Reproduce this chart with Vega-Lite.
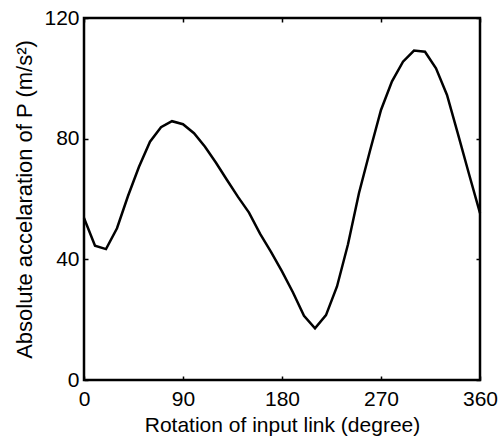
{
  "$schema": "https://vega.github.io/schema/vega-lite/v6.json",
  "width": 396,
  "height": 362,
  "autosize": {"type": "none"},
  "padding": {"left": 84, "top": 18, "right": 18, "bottom": 63},
  "background": "white",
  "config": {
    "view": {"stroke": "black", "strokeWidth": 2.5},
    "font": "Liberation Sans",
    "axis": {
      "grid": false,
      "domain": false,
      "tickColor": "black",
      "tickWidth": 1.5,
      "tickSize": -4,
      "labelColor": "black",
      "labelFontSize": 21,
      "labelFont": "Liberation Sans",
      "titleColor": "black",
      "titleFont": "Liberation Sans",
      "titleFontWeight": "normal",
      "titleFontSize": 21
    }
  },
  "data": {
    "values": [
      {"angle": 0, "acc": 53.7},
      {"angle": 10, "acc": 44.5},
      {"angle": 20, "acc": 43.4},
      {"angle": 30, "acc": 50.3},
      {"angle": 40, "acc": 61},
      {"angle": 50, "acc": 70.7},
      {"angle": 60, "acc": 79},
      {"angle": 70, "acc": 83.8},
      {"angle": 80, "acc": 85.8},
      {"angle": 90, "acc": 84.8},
      {"angle": 100, "acc": 81.8},
      {"angle": 110, "acc": 77.3},
      {"angle": 120, "acc": 72},
      {"angle": 130, "acc": 66.3},
      {"angle": 140, "acc": 60.7},
      {"angle": 150, "acc": 55.5},
      {"angle": 160, "acc": 48.5},
      {"angle": 170, "acc": 42.5},
      {"angle": 180, "acc": 36},
      {"angle": 190, "acc": 29},
      {"angle": 200, "acc": 21.3},
      {"angle": 210, "acc": 17.1},
      {"angle": 220, "acc": 21.5},
      {"angle": 230, "acc": 31},
      {"angle": 240, "acc": 45},
      {"angle": 250, "acc": 62},
      {"angle": 260, "acc": 76},
      {"angle": 270, "acc": 89.5},
      {"angle": 280, "acc": 99},
      {"angle": 290, "acc": 105.5},
      {"angle": 300, "acc": 109.2},
      {"angle": 310, "acc": 108.8},
      {"angle": 320, "acc": 103.3},
      {"angle": 330, "acc": 94.5},
      {"angle": 340, "acc": 81.5},
      {"angle": 350, "acc": 68.3},
      {"angle": 360, "acc": 55.3}
    ]
  },
  "layer": [
    {
      "mark": {"type": "line", "color": "black", "strokeWidth": 2.5, "strokeJoin": "miter"},
      "encoding": {
        "x": {
          "field": "angle", "type": "quantitative",
          "scale": {"domain": [0, 360], "nice": false, "zero": false},
          "axis": {"values": [0, 90, 180, 270, 360], "title": "Rotation of input link (degree)", "labelPadding": 12, "titlePadding": 5, "labelFlush": false}
        },
        "y": {
          "field": "acc", "type": "quantitative",
          "scale": {"domain": [0, 120], "nice": false},
          "axis": {"values": [0, 40, 80, 120], "title": "Absolute accelaration of P (m/s²)", "titleFontSize": 22, "labelPadding": 9, "titlePadding": 7, "labelFlush": false}
        }
      }
    },
    {
      "mark": {"type": "line", "opacity": 0},
      "encoding": {
        "x": {
          "field": "angle", "type": "quantitative",
          "axis": {"orient": "top", "values": [0, 90, 180, 270, 360], "labels": false, "title": null}
        },
        "y": {
          "field": "acc", "type": "quantitative",
          "axis": {"orient": "right", "values": [0, 40, 80, 120], "labels": false, "title": null}
        }
      }
    }
  ],
  "resolve": {"axis": {"x": "independent", "y": "independent"}}
}
